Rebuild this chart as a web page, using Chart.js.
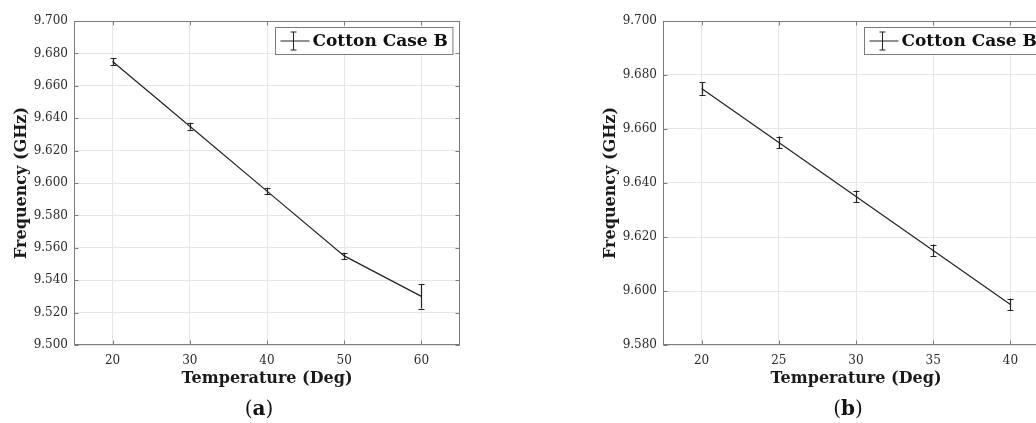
<!DOCTYPE html>
<html><head><meta charset="utf-8">
<script src="https://cdn.jsdelivr.net/npm/chart.js@4.4.1/dist/chart.umd.min.js"></script>
<style>
html,body{margin:0;padding:0;background:#fff;overflow:hidden;width:1036px;height:423px;}
#wrap{position:relative;width:1036px;height:423px;overflow:hidden;}
canvas{position:absolute;top:0;}
.lab{position:absolute;font-family:'DejaVu Serif';font-size:20px;color:#111;top:396px;width:60px;text-align:center;}
</style></head><body>
<div id="wrap">
<canvas id="ca" width="500" height="423" style="left:0"></canvas>
<canvas id="cb" width="500" height="423" style="left:589px"></canvas>
<div class="lab" style="left:229px">(<b>a</b>)</div>
<div class="lab" style="left:818px">(<b>b</b>)</div>
</div>
<script>
// ---- data ----
const seriesName = 'Cotton Case B';
const xTitle = 'Temperature (Deg)';
const yTitle = 'Frequency (GHz)';

const tempA = [20, 30, 40, 50, 60];
const freqA = [9.675, 9.635, 9.595, 9.555, 9.530];
const errA  = [0.0022, 0.0022, 0.0020, 0.0020, 0.0075];
const xTicksA = [20, 30, 40, 50, 60];
const yTicksA = [9.50, 9.52, 9.54, 9.56, 9.58, 9.60, 9.62, 9.64, 9.66, 9.68, 9.70];

const tempB = [20, 25, 30, 35, 40];
const freqB = [9.675, 9.655, 9.635, 9.615, 9.595];
const errB  = [0.0023, 0.0022, 0.0022, 0.0022, 0.0022];
const xTicksB = [20, 25, 30, 35, 40];
const yTicksB = [9.58, 9.60, 9.62, 9.64, 9.66, 9.68, 9.70];

// ---- styling ----
const FONT = "'DejaVu Serif', 'Liberation Serif', serif";
const AXIS = '#7c7c7c';
const GRID = '#e6e6e6';
const LINE = '#222';

const decor = {
  id: 'decor',
  afterDraw(chart) {
    const {ctx, chartArea: a, scales: {x, y}} = chart;
    ctx.save();
    // error bars
    const ds = chart.data.datasets[0];
    ctx.strokeStyle = LINE; ctx.lineWidth = 1.2;
    ds.data.forEach((p, i) => {
      const px = Math.round(x.getPixelForValue(p.x)) + 0.5;
      const pt = y.getPixelForValue(p.y + ds.errors[i]);
      const pb = y.getPixelForValue(p.y - ds.errors[i]);
      ctx.beginPath();
      ctx.moveTo(px, pt); ctx.lineTo(px, pb);
      ctx.moveTo(px - 3, Math.round(pt) + 0.5); ctx.lineTo(px + 3, Math.round(pt) + 0.5);
      ctx.moveTo(px - 3, Math.round(pb) + 0.5); ctx.lineTo(px + 3, Math.round(pb) + 0.5);
      ctx.stroke();
    });
    // box
    ctx.strokeStyle = AXIS; ctx.lineWidth = 1;
    const L = Math.round(a.left) + 0.5, R = Math.round(a.right) - 0.5;
    const T = Math.round(a.top) + 0.5, B = Math.round(a.bottom) - 0.5;
    ctx.strokeRect(L, T, R - L, B - T);
    // inward ticks
    ctx.beginPath();
    x.ticks.forEach(t => {
      const px = Math.round(x.getPixelForValue(t.value)) + 0.5;
      ctx.moveTo(px, B); ctx.lineTo(px, B - 4);
      ctx.moveTo(px, T); ctx.lineTo(px, T + 4);
    });
    y.ticks.forEach(t => {
      const py = Math.round(y.getPixelForValue(t.value)) + 0.5;
      ctx.moveTo(L, py); ctx.lineTo(L + 4, py);
      ctx.moveTo(R, py); ctx.lineTo(R - 4, py);
    });
    ctx.stroke();
    // legend
    ctx.font = 'bold 17px ' + FONT;
    const tw = ctx.measureText(ds.label).width;
    const bw = 37 + tw + 5, bh = 27;
    const bx = Math.round(a.right - 8 - bw) + 0.5, by = Math.round(a.top + 6) + 0.5;
    ctx.fillStyle = '#fff';
    ctx.fillRect(bx, by, bw, bh);
    ctx.strokeStyle = AXIS;
    ctx.strokeRect(bx, by, bw, bh);
    const cy = by + 13.5;
    ctx.strokeStyle = LINE;
    ctx.beginPath();
    ctx.moveTo(bx + 5, cy); ctx.lineTo(bx + 34, cy);
    ctx.moveTo(bx + 18, cy - 9); ctx.lineTo(bx + 18, cy + 9);
    ctx.moveTo(bx + 15, cy - 9); ctx.lineTo(bx + 21, cy - 9);
    ctx.moveTo(bx + 15, cy + 9); ctx.lineTo(bx + 21, cy + 9);
    ctx.stroke();
    ctx.fillStyle = '#111';
    ctx.textBaseline = 'middle';
    ctx.fillText(ds.label, bx + 37, cy + 1);
    ctx.restore();
  }
};

function makeChart(id, temps, freqs, errs, xTicks, yTicks, xMin, xMax, yMin, yMax) {
  return new Chart(document.getElementById(id), {
    type: 'line',
    data: {
      datasets: [{
        label: seriesName,
        data: temps.map((t, i) => ({x: t, y: freqs[i]})),
        errors: errs,
        borderColor: LINE,
        borderWidth: 1.2,
        pointRadius: 0,
        tension: 0,
        fill: false
      }]
    },
    options: {
      responsive: false,
      animation: false,
      devicePixelRatio: 1,
      layout: {padding: {top: 21, right: 40, bottom: 0, left: 0}},
      plugins: {legend: {display: false}, tooltip: {enabled: false}},
      scales: {
        x: {
          type: 'linear', min: xMin, max: xMax,
          afterBuildTicks: s => { s.ticks = xTicks.map(v => ({value: v})); },
          afterFit: s => { s.height = 78; },
          grid: {color: GRID, drawTicks: false},
          border: {display: false},
          ticks: {font: {family: FONT, size: 12}, color: '#2a2a2a', padding: 9, maxRotation: 0},
          title: {display: true, text: xTitle, color: '#1a1a1a',
                  font: {family: FONT, size: 16, weight: 'bold'}, padding: {top: 0, bottom: 35}}
        },
        y: {
          type: 'linear', min: yMin, max: yMax,
          afterBuildTicks: s => { s.ticks = yTicks.map(v => ({value: v})); },
          afterFit: s => { s.width = 74; },
          grid: {color: GRID, drawTicks: false},
          border: {display: false},
          ticks: {font: {family: FONT, size: 12}, color: '#2a2a2a', padding: 6,
                  callback: v => Number(v).toFixed(3)},
          title: {display: true, text: yTitle, color: '#1a1a1a',
                  font: {family: FONT, size: 16, weight: 'bold'}, padding: {top: 12, bottom: 0}}
        }
      }
    },
    plugins: [decor]
  });
}

makeChart('ca', tempA, freqA, errA, xTicksA, yTicksA, 15, 65, 9.50, 9.70);
makeChart('cb', tempB, freqB, errB, xTicksB, yTicksB, 17.5, 42.5, 9.58, 9.70);
</script>
</body></html>
